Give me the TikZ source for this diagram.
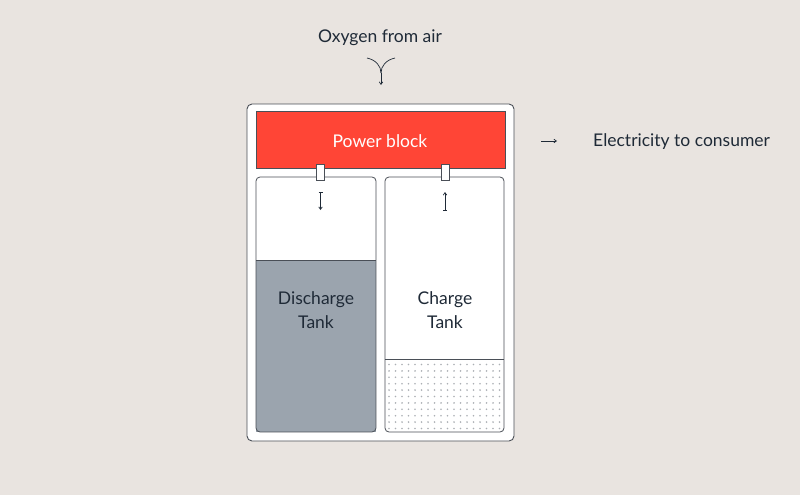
\documentclass[tikz,border=0pt]{standalone}
\usepackage{fontspec}
\setmainfont{Lato}
\usetikzlibrary{arrows.meta}
\definecolor{bg}{HTML}{E9E4E0}
\definecolor{ink}{HTML}{1F2A37}
\definecolor{edge}{HTML}{4A4F57}
\definecolor{pred}{HTML}{FF4536}
\definecolor{tankgray}{HTML}{9BA4AE}
\definecolor{dotc}{HTML}{ABAFB4}
\tikzset{
  lbl/.style={font=\fontsize{17.5}{24}\selectfont, text=ink, inner sep=0pt},
  tankbox/.style={draw=edge, line width=0.8pt, rounded corners=4pt},
  pipe/.style={draw=edge, fill=white, line width=0.8pt},
  flow/.style={draw=ink, line width=0.7pt, -{Straight Barb[length=2.5pt,width=3.5pt]}},
}
\begin{document}
\begin{tikzpicture}[x=1pt,y=-1pt]
\fill[bg] (0,0) rectangle (800,495);
\useasboundingbox (0,0) rectangle (800,495);
% outer box
\node[draw=edge, fill=white, line width=0.9pt, rounded corners=5pt, minimum width=267pt, minimum height=337pt, inner sep=0pt] (outer) at (380.5,272.5) {};
% power block
\node[fill=pred, draw=edge, line width=0.5pt, minimum width=249pt, minimum height=57pt, inner sep=0pt] (power) at (380.5,139.5) {};
\node[lbl, text=white] (ptext) at (380,141.5) {Power block};
% tanks
\fill[tankgray, rounded corners=0pt] (256,260) rectangle (376,432);
\draw[edge, line width=0.8pt] (256,260) -- (376,260);
\foreach \xx in {0,...,17} {
  \foreach \yy in {0,...,10} {
    \fill[dotc] (389+\xx*6.5, 364.5+\yy*6.4) circle (0.9pt);
  }
}
\draw[edge, line width=0.8pt] (385,359) -- (504,359);
\node[tankbox, minimum width=120pt, minimum height=255pt, inner sep=0pt] (ltank) at (316,304.5) {};
\node[tankbox, minimum width=119pt, minimum height=255pt, inner sep=0pt] (rtank) at (444.5,304.5) {};
% pipes
\node[pipe, minimum width=8pt, minimum height=16pt, inner sep=0pt] (lpipe) at (320.5,172) {};
\node[pipe, minimum width=8pt, minimum height=16pt, inner sep=0pt] (rpipe) at (445,172) {};
\fill[white] (317.3,167.5) rectangle (323.7,178.8);
\fill[white] (441.8,167.5) rectangle (448.2,178.8);
% tank labels
\node[lbl, align=center] (ltext) at (316,310) {Discharge\\Tank};
\node[lbl, align=center] (rtext) at (445,310) {Charge\\Tank};
% small arrows in tanks
\coordinate (la1) at (320.5,192);
\coordinate (la2) at (320.5,210);
\coordinate (ra1) at (445,210);
\coordinate (ra2) at (445,192);
\draw[flow] (la1) -- (la2);
\draw[ink, line width=0.6pt] (318.5,192) -- (322.5,192);
\draw[flow] (ra1) -- (ra2);
\draw[ink, line width=0.6pt] (443,210) -- (447,210);
% oxygen
\node[lbl] (oxy) at (380,38) {Oxygen from air};
\coordinate (yl) at (367,58);
\coordinate (yr) at (395,58);
\coordinate (ym) at (381,73);
\coordinate (yb) at (381,85);
\draw[ink, line width=0.7pt] (yl) .. controls (376,60) and (381,66) .. (ym);
\draw[ink, line width=0.7pt] (yr) .. controls (386,60) and (381,66) .. (ym);
\draw[flow] (ym) -- (yb);
% electricity
\coordinate (ea) at (541,141);
\coordinate (eb) at (557,141);
\draw[flow] (ea) -- (eb);
\node[lbl, anchor=west] (elec) at (593,141.5) {Electricity to consumer};
\end{tikzpicture}
\end{document}
